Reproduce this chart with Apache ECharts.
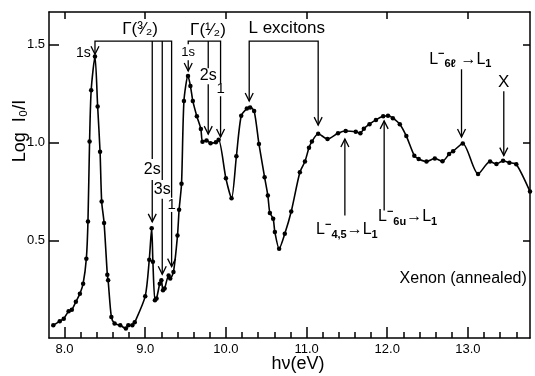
<!DOCTYPE html>
<html>
<head>
<meta charset="utf-8">
<script src="https://cdn.jsdelivr.net/npm/echarts@6/dist/echarts.min.js"></script>
<style>
  html, body { margin: 0; padding: 0; background: #fff; }
  #main { width: 535px; height: 376px; }
</style>
</head>
<body>
<div id="main"></div>
<script>
var energy = [7.86, 7.94, 7.99, 8.05, 8.09, 8.14, 8.19, 8.23, 8.27, 8.29,
    8.31, 8.33, 8.377, 8.41, 8.44, 8.46, 8.49, 8.53, 8.54, 8.58,
    8.62, 8.69, 8.76, 8.79, 8.84, 8.87, 9.00, 9.05, 9.08, 9.095,
    9.12, 9.14, 9.18, 9.20, 9.22, 9.24, 9.29, 9.31, 9.35, 9.40,
    9.42, 9.45, 9.48, 9.53, 9.56, 9.59, 9.64, 9.69, 9.71, 9.76,
    9.81, 9.876, 9.91, 10.00, 10.07, 10.13, 10.19, 10.26, 10.30, 10.35,
    10.41, 10.48, 10.52, 10.545, 10.586, 10.607, 10.66, 10.73, 10.81, 10.917,
    10.98, 11.03, 11.066, 11.144, 11.26, 11.39, 11.485, 11.61, 11.667, 11.71,
    11.78, 11.86, 11.95, 12.01, 12.07, 12.156, 12.237, 12.336, 12.39, 12.487,
    12.59, 12.685, 12.767, 12.817, 12.937, 13.126, 13.275, 13.354, 13.436, 13.514,
    13.60, 13.77];
var logRatio = [0.065, 0.086, 0.099, 0.137, 0.145, 0.185, 0.227, 0.278, 0.406, 0.596,
    1.006, 1.268, 1.44, 1.185, 0.953, 0.698, 0.589, 0.324, 0.295, 0.108,
    0.074, 0.065, 0.048, 0.065, 0.065, 0.08, 0.214, 0.40, 0.562, 0.39,
    0.193, 0.202, 0.278, 0.295, 0.244, 0.253, 0.32, 0.304, 0.338, 0.524,
    0.656, 0.789, 1.213, 1.341, 1.29, 1.213, 1.134, 1.069, 1.004, 1.011,
    0.997, 1.001, 1.014, 0.817, 0.715, 0.93, 1.137, 1.174, 1.18, 1.162,
    0.992, 0.822, 0.729, 0.64, 0.61, 0.542, 0.457, 0.533, 0.647, 0.848,
    0.903, 0.973, 1.005, 1.045, 1.018, 1.048, 1.059, 1.055, 1.048, 1.071,
    1.094, 1.116, 1.134, 1.137, 1.125, 1.094, 1.033, 0.933, 0.916, 0.903,
    0.919, 0.904, 0.941, 0.956, 0.995, 0.839, 0.903, 0.89, 0.907, 0.897,
    0.889, 0.749];

var xLabels = [8, 9, 10, 11, 12, 13];
var xMinor = [8.2, 8.4, 8.6, 8.8, 9.2, 9.4, 9.6, 9.8, 10.2, 10.4, 10.6, 10.8,
    11.2, 11.4, 11.6, 11.8, 12.2, 12.4, 12.6, 12.8, 13.2, 13.4, 13.6];
var yLabels = [0.5, 1.0, 1.5];

var FONT = 'Liberation Sans';
var X_MIN = 7.807, X_MAX = 13.77, Y_MIN = 0, Y_MAX = 1.668;

var chart = echarts.init(document.getElementById('main'));

var pts = energy.map(function (e, i) { return [e, logRatio[i]]; });

var black = { color: '#000', width: 1.5 };

chart.setOption({
    animation: false,
    grid: { left: 49, right: 5, top: 12, bottom: 38 },
    xAxis: [
        {
            type: 'value', position: 'bottom', min: X_MIN, max: X_MAX,
            axisLine: { show: true, lineStyle: black },
            axisTick: { show: true, inside: true, length: 6, customValues: xMinor, lineStyle: black },
            axisLabel: { customValues: xLabels, color: '#000', fontFamily: FONT, fontSize: 13, margin: 5,
                formatter: function (v) { return v.toFixed(1); } },
            splitLine: { show: false }
        },
        {
            type: 'value', position: 'bottom', min: X_MIN, max: X_MAX,
            axisLine: { show: false },
            axisTick: { show: true, inside: true, length: 11, customValues: xLabels, lineStyle: black },
            axisLabel: { show: false },
            splitLine: { show: false }
        },
        {
            type: 'value', position: 'top', min: X_MIN, max: X_MAX,
            axisLine: { show: true, lineStyle: black },
            axisTick: { show: true, inside: true, length: 7, customValues: xLabels, lineStyle: black },
            axisLabel: { show: false },
            splitLine: { show: false }
        }
    ],
    yAxis: [
        {
            type: 'value', position: 'left', min: Y_MIN, max: Y_MAX,
            axisLine: { show: true, lineStyle: black },
            axisTick: { show: true, inside: true, length: 10, customValues: yLabels, lineStyle: black },
            axisLabel: { customValues: yLabels, color: '#000', fontFamily: FONT, fontSize: 13, margin: 4,
                formatter: function (v) { return v.toFixed(1); } },
            splitLine: { show: false }
        },
        {
            type: 'value', position: 'right', min: Y_MIN, max: Y_MAX,
            axisLine: { show: true, lineStyle: black },
            axisTick: { show: true, inside: true, length: 7, customValues: yLabels, lineStyle: black },
            axisLabel: { show: false },
            splitLine: { show: false }
        }
    ],
    series: [{
        type: 'line',
        xAxisIndex: 0,
        yAxisIndex: 0,
        data: pts,
        smooth: 0.25,
        symbol: 'circle',
        symbolSize: 4.5,
        showAllSymbol: true,
        lineStyle: { color: '#000', width: 1.6 },
        itemStyle: { color: '#000' },
        clip: true
    }]
});

// ---- annotations (brackets, arrows, labels), placed in data coordinates ----
function px(p) { return chart.convertToPixel({ xAxisIndex: 0, yAxisIndex: 0 }, p); }
var els = [];
var LW = 1.3;
function seg(a, b) {
    els.push({ type: 'polyline', silent: true, shape: { points: [px(a), px(b)] },
        style: { stroke: '#000', lineWidth: LW, fill: null } });
}
function path(list) {
    els.push({ type: 'polyline', silent: true, shape: { points: list.map(px) },
        style: { stroke: '#000', lineWidth: LW, fill: null } });
}
function head(p, up) {
    var c = px(p), d = up ? 8 : -8;
    els.push({ type: 'polyline', silent: true,
        shape: { points: [[c[0] - 4, c[1] + d], [c[0], c[1]], [c[0] + 4, c[1] + d]] },
        style: { stroke: '#000', lineWidth: LW, fill: null } });
}
function text(t, p, align, size, rich) {
    var c = px(p);
    els.push({ type: 'text', silent: true, x: c[0], y: c[1],
        style: { text: t, fill: '#000', font: size + 'px "' + FONT + '"', fontFamily: FONT, fontSize: size,
            align: align, verticalAlign: 'middle', rich: rich } });
}

var TOP = 1.519;

// Γ(3/2) bracket
path([[8.377, 1.452], [8.377, TOP], [9.327, TOP], [9.327, 0.717]]);
seg([9.087, TOP], [9.087, 0.916]);
seg([9.211, TOP], [9.211, 0.809]);
seg([9.087, 0.809], [9.087, 0.594]);
seg([9.211, 0.712], [9.211, 0.326]);
seg([9.327, 0.645], [9.327, 0.365]);
head([8.377, 1.452]); head([9.087, 0.594]); head([9.211, 0.326]); head([9.327, 0.365]);
text('Γ(³⁄₂)', [8.936, 1.579], 'center', 17);
text('1s', [8.325, 1.46], 'right', 14);
text('2s', [9.087, 0.862], 'center', 16);
text('3s', [9.211, 0.76], 'center', 16);
text('1', [9.327, 0.681], 'center', 15);

// Γ(1/2) bracket
path([[9.533, 1.503], [9.533, TOP], [9.934, TOP], [9.934, 1.304]]);
seg([9.781, TOP], [9.781, 1.38]);
seg([9.533, 1.421], [9.533, 1.366]);
seg([9.781, 1.298], [9.781, 1.043]);
seg([9.934, 1.237], [9.934, 1.028]);
head([9.533, 1.366]); head([9.781, 1.043]); head([9.934, 1.028]);
text('Γ(¹⁄₂)', [9.777, 1.576], 'center', 17);
text('1s', [9.533, 1.462], 'center', 13);
text('2s', [9.781, 1.341], 'center', 16);
text('1', [9.934, 1.273], 'center', 15);

// L excitons bracket
path([[10.289, 1.213], [10.289, TOP], [11.144, TOP], [11.144, 1.089]]);
head([10.289, 1.213]); head([11.144, 1.089]);
text('L excitons', [10.28, 1.584], 'left', 17);

// transitions
var rich = {
    m: { fontSize: 16, fontFamily: FONT, lineHeight: 21, verticalAlign: 'middle' },
    b: { fontSize: 11, fontFamily: FONT, fontWeight: 'bold', verticalAlign: 'bottom' },
    t: { fontSize: 11, fontFamily: FONT, fontWeight: 'bold', verticalAlign: 'top' }
};
seg([12.921, 1.375], [12.921, 1.028]); head([12.921, 1.028]);
text('{m|L}{t|−}{b|6ℓ}{m| →L}{b|1}', [12.906, 1.426], 'center', 16, rich);

seg([13.445, 1.263], [13.445, 0.933]); head([13.445, 0.933]);
text('X', [13.445, 1.309], 'center', 17);

seg([11.475, 0.627], [11.475, 1.018]); head([11.475, 1.018], true);
text('{m|L}{t|−}{b|4,5}{m|→L}{b|1}', [11.5, 0.554], 'center', 16, rich);

seg([11.962, 0.652], [11.962, 1.111]); head([11.962, 1.111], true);
text('{m|L}{t|−}{b|6u}{m|→L}{b|1}', [11.886, 0.62], 'left', 16, rich);

text('Xenon (annealed)', [13.73, 0.304], 'right', 16);

// axis titles
els.push({ type: 'text', silent: true, x: 20, y: 131, rotation: Math.PI / 2,
    style: { text: 'Log  I₀/I', fill: '#000', font: '18px "' + FONT + '"', align: 'center', verticalAlign: 'middle' } });
els.push({ type: 'text', silent: true, x: 298, y: 364,
    style: { text: 'hν(eV)', fill: '#000', font: '18px "' + FONT + '"', align: 'center', verticalAlign: 'middle' } });

chart.setOption({ graphic: els });
</script>
</body>
</html>
